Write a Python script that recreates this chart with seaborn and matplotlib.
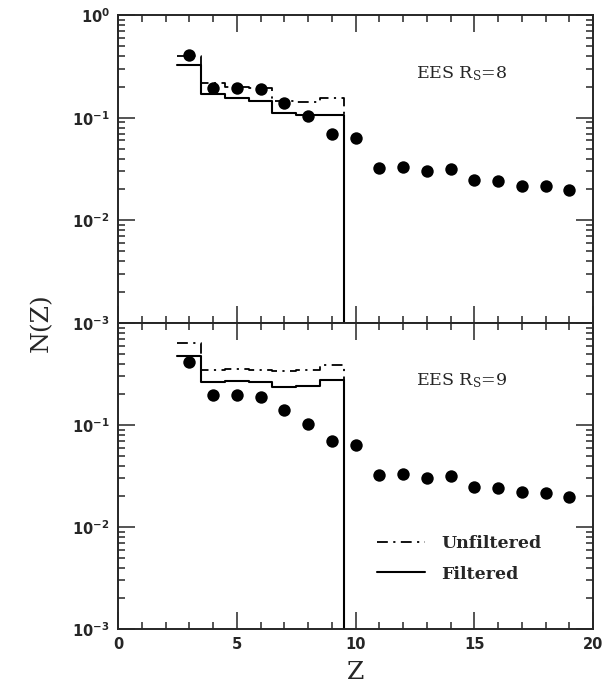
import numpy as np
import pandas as pd
import matplotlib
matplotlib.use("Agg")
import matplotlib.pyplot as plt
import seaborn as sns
from matplotlib.ticker import LogLocator, MultipleLocator, NullFormatter, FuncFormatter, FixedLocator
from matplotlib.lines import Line2D

# ---------------- data ----------------
Z_points = [3, 4, 5, 6, 7, 8, 9, 10, 11, 12, 13, 14, 15, 16, 17, 18, 19]
N_points = [0.41, 0.195, 0.195, 0.19, 0.139, 0.103, 0.070, 0.064, 0.032, 0.033,
            0.030, 0.0315, 0.0247, 0.0242, 0.0218, 0.0216, 0.0196]

Z_hist = [3, 4, 5, 6, 7, 8, 9]
unfiltered_rs8 = [0.40, 0.216, 0.200, 0.194, 0.145, 0.143, 0.155]
filtered_rs8 = [0.326, 0.169, 0.155, 0.144, 0.111, 0.106, 0.106]
unfiltered_rs9 = [0.635, 0.348, 0.355, 0.348, 0.336, 0.348, 0.39]
filtered_rs9 = [0.48, 0.264, 0.27, 0.264, 0.236, 0.242, 0.275]

panel_labels = ["EES R$_{\\rm S}$=8", "EES R$_{\\rm S}$=9"]
legend_labels = ["Unfiltered", "Filtered"]
x_ticks = [0, 5, 10, 15, 20]

# ---------------- style ----------------
sns.set_style("ticks")
plt.rcParams["font.family"] = ["DejaVu Serif"]

YMIN, YMAX = 1e-3, 1.0
DASHDOT = (0, (6, 3, 1.2, 3))


def hist_frame(z, vals):
    edges = [v - 0.5 for v in z] + [z[-1] + 0.5]
    yv = list(vals) + [YMIN * 0.1]
    return pd.DataFrame({"Z": edges, "N": yv})


def sup_fmt(v, pos):
    e = int(round(np.log10(v)))
    return r"$\mathbf{10^{%d}}$" % e


fig = plt.figure(figsize=(6.08, 6.87), dpi=100)
L, R = 118 / 608, 593 / 608
ax_top = fig.add_axes([L, 1 - 323 / 687, R - L, (323 - 15) / 687])
ax_bot = fig.add_axes([L, 1 - 629 / 687, R - L, (629 - 323) / 687])

pts = pd.DataFrame({"Z": Z_points, "N": N_points})

for ax, unf, fil, lab in [(ax_top, unfiltered_rs8, filtered_rs8, panel_labels[0]),
                          (ax_bot, unfiltered_rs9, filtered_rs9, panel_labels[1])]:
    sns.lineplot(data=hist_frame(Z_hist, unf), x="Z", y="N", ax=ax, color="black",
                 lw=1.3, linestyle=DASHDOT, drawstyle="steps-post",
                 estimator=None, sort=False)
    sns.lineplot(data=hist_frame(Z_hist, fil), x="Z", y="N", ax=ax, color="black",
                 lw=1.5, drawstyle="steps-post", estimator=None, sort=False)
    sns.scatterplot(data=pts, x="Z", y="N", ax=ax, color="black", s=80,
                    edgecolor="black", linewidth=0, zorder=5)
    ax.set_yscale("log")
    ax.set_ylim(YMIN, YMAX)
    ax.set_xlim(0, 20)
    ax.set_xlabel("")
    ax.set_ylabel("")
    ax.xaxis.set_major_locator(FixedLocator(x_ticks))
    ax.xaxis.set_minor_locator(MultipleLocator(1))
    ax.yaxis.set_major_locator(LogLocator(base=10, numticks=10))
    ax.yaxis.set_minor_locator(LogLocator(base=10, subs=np.arange(2, 10), numticks=20))
    ax.yaxis.set_minor_formatter(NullFormatter())
    ax.tick_params(which="both", direction="in", top=True, right=True, width=1.1)
    ax.tick_params(which="major", length=12)
    ax.tick_params(which="minor", length=5)
    for sp in ax.spines.values():
        sp.set_linewidth(1.4)
        sp.set_visible(True)
    ax.text(0.724, 0.81, lab, transform=ax.transAxes, ha="center", va="center",
            fontsize=12.5, math_fontfamily="dejavuserif")

# y tick labels
for ax in (ax_top, ax_bot):
    ax.yaxis.set_major_formatter(FuncFormatter(sup_fmt))
    for t in ax.get_yticklabels():
        t.set_math_fontfamily("dejavusans")
        t.set_fontsize(10.5)

# hide top label in the lower panel (shared with upper panel's 10^-3)
def bot_fmt(v, pos):
    if v > 0.5:
        return ""
    return sup_fmt(v, pos)

ax_bot.yaxis.set_major_formatter(FuncFormatter(bot_fmt))
ax_top.tick_params(axis="x", labelbottom=False)
ax_bot.set_xticks(x_ticks)
ax_bot.set_xticklabels([str(v) for v in x_ticks], fontfamily="DejaVu Sans",
                       fontweight="bold", fontsize=10.5)
ax_top.tick_params(axis="y", pad=6)
ax_bot.tick_params(axis="y", pad=6)
ax_bot.tick_params(axis="x", pad=6)

ax_bot.set_xlabel("Z", fontsize=18, labelpad=6)
fig.text(0.068, 0.53, "N(Z)", rotation=90, fontsize=18, ha="center", va="center")

handles = [Line2D([0], [0], color="black", lw=1.3, linestyle=DASHDOT),
           Line2D([0], [0], color="black", lw=1.5)]
leg = ax_bot.legend(handles, legend_labels, loc="center left",
                    bbox_to_anchor=(0.545, 0.23), frameon=False, borderpad=0,
                    borderaxespad=0, handlelength=2.8, handletextpad=0.9,
                    labelspacing=0.8, prop={"family": "DejaVu Serif",
                                            "weight": "bold", "size": 12.5})

fig.savefig("out.png", dpi=100)
